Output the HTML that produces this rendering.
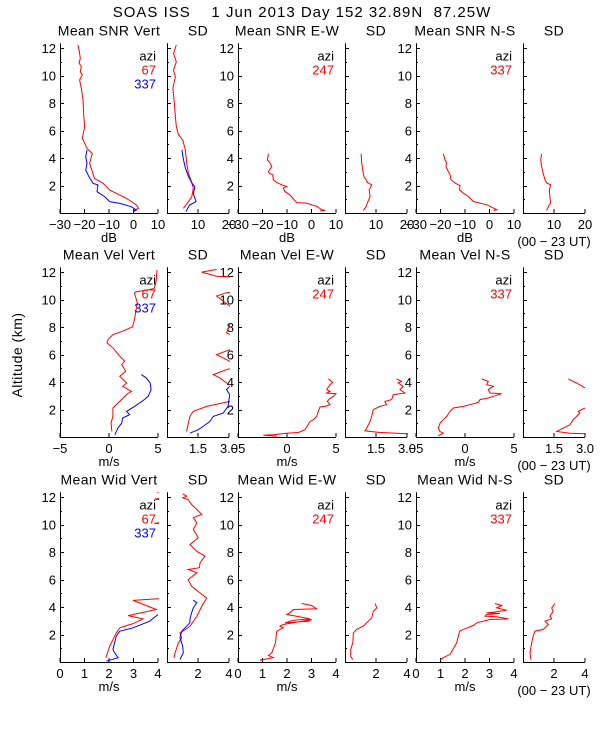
<!DOCTYPE html>
<html><head><meta charset="utf-8"><style>
html,body{margin:0;padding:0;background:#fff;}
svg{display:block;font-family:"Liberation Sans","DejaVu Sans",sans-serif;}
</style></head><body>
<svg id="chart" width="600" height="750" viewBox="0 0 600 750" xmlns="http://www.w3.org/2000/svg">
<rect width="600" height="750" fill="#fff"/>
<text x="302" y="17" font-size="15" letter-spacing="1" text-anchor="middle" xml:space="preserve">SOAS ISS    1 Jun 2013 Day 152 32.89N  87.25W</text>
<text x="0" y="0" font-size="14" letter-spacing="0.5" text-anchor="middle" transform="translate(22,355) rotate(-90)">Altitude (km)</text>
</svg>
<script>
// ---------- data (altitude km / value) ----------
const altTicks = [2,4,6,8,10,12];
const rowTitles = [["Mean SNR Vert","SD","Mean SNR E-W","SD","Mean SNR N-S","SD"],
                   ["Mean Vel Vert","SD","Mean Vel E-W","SD","Mean Vel N-S","SD"],
                   ["Mean Wid Vert","SD","Mean Wid E-W","SD","Mean Wid N-S","SD"]];
const rowUnits = ["dB","m/s","m/s"];
const meanDomains = [[-30,10],[-5,5],[0,4]];
const sdDomains = [[0,20],[0,3],[0,4]];
const meanTickLabels = [[-30,-20,-10,0,10],[-5,0,5],[0,1,2,3,4]];
const sdTickLabels = [["10","20"],["1.5","3.0"],["2","4"]];

// Row 1 SNR
const snrVertRedAlt = [12.23,11.87,11.26,10.9,10.66,10.29,10.05,9.68,9.08,8.23,7.01,6.29,5.44,5.07,4.71,4.47,4.34,3.62,3.01,2.52,2.16,1.67,1.07,0.58,0.34,0.22,0.1];
const snrVertRedVal = [-22.7,-22.2,-21.7,-22.2,-21.3,-21.7,-20.9,-22.0,-21.3,-20.6,-20.3,-19.9,-20.9,-19.9,-19.0,-17.6,-16.8,-17.9,-16.8,-15.9,-12.4,-9.7,-2.9,1.2,2.1,0.5,0.1];
const snrVertBlueAlt = [4.59,4.1,3.62,3.13,2.65,2.16,2.04,1.55,1.19,0.83,0.7,0.46,0.22,0.1];
const snrVertBlueVal = [-19.0,-19.5,-19.0,-19.5,-18.2,-16.5,-14.5,-14.9,-11.8,-9.7,-5.6,-0.9,1.2,-0.2];
const snrVertSdRedAlt = [12.23,11.6,11.0,10.4,9.9,9.1,8.2,7.0,6.3,5.7,5.3,4.6,3.6,2.9,2.2,1.8,1.2,0.83,0.34];
const snrVertSdRedVal = [3.0,2.1,3.0,2.1,2.7,1.9,2.3,2.7,3.0,3.7,5.1,5.9,6.4,6.9,8.0,8.5,8.0,6.9,5.3];
const snrVertSdBlueAlt = [4.6,3.9,3.3,2.65,2.2,1.9,1.4,0.83,0.58,0.1];
const snrVertSdBlueVal = [4.8,5.3,5.9,6.9,8.0,9.0,8.5,9.4,7.3,6.1];
const snrEwAlt = [4.31,3.87,3.63,3.38,3.02,2.90,2.78,2.42,2.22,2.05,1.93,1.81,1.56,1.32,0.96,0.76,0.72,0.60,0.47,0.23,0.18,0.16];
const snrEwVal = [-17.6,-18.0,-16.9,-16.2,-17.6,-17.2,-15.8,-15.6,-14.2,-12.2,-10.1,-11.5,-10.8,-8.8,-7.1,-6.0,-2.0,0.1,2.2,4.2,5.5,3.5];
const snrEwSdAlt = [4.31,3.63,3.14,2.66,2.42,2.22,2.05,1.69,1.20,0.72,0.47,0.18];
const snrEwSdVal = [5.2,5.4,5.7,6.1,6.8,7.2,8.6,7.8,8.1,7.2,6.8,5.9];
const snrNsAlt = [4.31,3.87,3.63,3.38,3.02,2.78,2.42,2.18,1.98,1.69,1.45,1.20,0.84,0.60,0.36,0.23,0.18];
const snrNsVal = [-18.8,-18.2,-17.5,-17.8,-16.8,-16.1,-15.7,-14.1,-12.0,-12.3,-10.7,-8.6,-6.6,-1.1,1.6,3.0,1.6];
const snrNsSdAlt = [4.31,3.87,3.38,2.90,2.42,2.18,2.05,1.69,1.08,0.72,0.47,0.18];
const snrNsSdVal = [6.0,5.7,6.0,6.5,7.1,7.6,8.9,8.5,8.7,8.9,8.2,7.6];

// Row 2 Velocity
const velVertRedAlt = [12.15,11.23,10.80,10.69,10.55,10.45,9.77,9.41,8.55,8.02,7.70,7.46,7.09,6.85,6.49,5.88,5.51,5.27,4.78,4.42,3.93,3.69,3.32,3.16,2.11,1.50,1.01,0.40];
const velVertRedVal = [4.9,4.8,4.6,3.8,2.7,2.6,2.9,2.8,2.6,2.4,1.4,0.4,-0.1,-0.2,0.4,1.1,1.6,1.3,1.7,1.1,1.8,1.4,2.3,1.9,0.4,0.4,0.2,0.3];
const velVertBlueAlt = [4.54,4.30,3.93,3.45,2.96,2.72,2.47,2.23,1.86,1.62,1.38,1.01,0.65,0.16];
const velVertBlueVal = [3.3,3.8,4.2,4.3,4.0,3.6,3.1,2.6,1.8,2.1,1.4,1.3,0.9,0.6];
const velVertSdRedAlt = [12.2,12.0,11.7,11.6,10.6,10.5,10.26,9.53,9.28,8.19,7.58,7.34,6.61,6.0,5.51,5.15,4.9,4.54,4.3,3.93,3.45,2.72,2.59,2.23,1.86,1.50,1.01,0.40];
const velVertSdRedVal = [2.4,1.68,2.4,3.5,3.5,2.88,2.4,3.04,3.5,3.04,2.88,3.2,3.5,2.4,3.04,3.5,2.88,2.24,2.56,2.88,3.5,3.5,3.04,1.92,1.27,1.11,1.03,0.95];
const velVertSdBlueAlt = [3.69,3.45,3.08,2.23,1.74,1.50,1.13,0.77,0.53,0.28];
const velVertSdBlueVal = [3.04,2.88,3.04,2.95,2.72,2.24,2.07,1.75,1.51,1.11];
const velEwAlt = [4.23,3.98,3.81,3.45,3.32,3.2,3.15,2.96,2.77,2.59,2.35,2.23,2.18,1.86,1.50,1.26,1.13,0.53,0.33,0.28,0.16,0.14,0.06];
const velEwVal = [4.21,4.66,4.39,4.05,4.39,4.05,5.0,4.73,4.32,4.11,4.39,3.88,3.37,3.19,3.03,2.68,2.35,1.84,1.15,-0.03,-1.40,-2.42,-1.05];
const velEwSdAlt = [4.23,4.05,3.93,3.69,3.45,3.2,3.08,2.72,2.59,2.35,2.23,1.99,1.50,1.13,0.65,0.45,0.33,0.23];
const velEwSdVal = [2.5,2.74,2.57,2.82,2.66,2.9,2.33,2.26,1.93,2.01,1.69,1.37,1.29,1.21,1.05,0.97,1.69,2.98];
const velNsAlt = [4.23,4.05,3.81,3.69,3.45,3.2,3.15,2.96,2.84,2.72,2.52,2.35,2.23,2.11,1.86,1.50,1.26,1.01,0.65,0.40,0.28,0.09];
const velNsVal = [1.7,2.38,2.21,2.89,2.38,2.55,3.74,2.89,2.38,1.53,1.36,0.51,-0.17,-1.19,-1.53,-1.87,-2.21,-2.55,-2.72,-2.55,-2.21,-2.72];
const velNsSdUpperAlt = [4.23,3.93,3.57];
const velNsSdUpperVal = [2.19,2.59,3.0];
const velNsSdLowerAlt = [2.11,1.86,1.74,1.26,0.89,0.65,0.53,0.40,0.28,0.23];
const velNsSdLowerVal = [3.0,2.67,2.75,2.43,2.27,1.95,1.79,1.63,2.27,3.0];

// Row 3 Width
const widVertRedAlt = [12.35,12.25,11.85,11.7,10.3,10.1,9.95,4.7,4.6,4.48,3.82,3.38,3.14,2.79,2.65,2.48,2.12,1.15,0.3];
const widVertRedVal = [3.95,5,3.85,5,5,3.85,5,5,4.0,2.98,3.93,2.78,3.39,2.98,2.71,2.44,2.30,2.03,1.87];
const widVertBlueAlt = [3.46,2.97,2.49,2.24,1.88,1.40,0.91,0.67,0.31,0.06];
const widVertBlueVal = [4.0,3.66,2.98,2.44,2.30,2.23,2.16,2.23,2.37,1.89];
const widVertSdRedAlt = [12.24,12.07,11.95,11.83,11.46,11.1,10.74,10.5,10.13,9.64,9.04,8.55,8.06,7.70,7.22,6.86,6.73,6.49,6.0,5.51,5.03,4.66,4.05,3.32,2.59,2.11,1.75,1.38,0.66,0.3];
const widVertSdRedVal = [1.01,1.27,1.01,1.37,1.59,1.92,2.24,1.70,1.92,1.70,2.02,1.48,1.92,2.45,2.13,2.09,1.37,1.92,1.37,1.59,2.13,2.56,2.24,1.92,1.48,0.84,0.95,0.73,0.52,0.45];
const widVertSdBlueAlt = [4.5,4.31,3.94,3.58,3.09,2.85,2.49,2.24,1.76,1.15,0.67,0.18];
const widVertSdBlueVal = [1.70,1.92,1.70,1.59,1.48,1.48,1.16,0.95,0.84,1.01,1.05,0.84];
const widEwAlt = [4.26,4.11,3.87,3.82,3.58,3.46,3.33,3.14,3.04,2.85,2.97,3.09,2.73,2.61,2.49,2.24,1.40,0.67,0.47,0.31,0.13,0.23];
const widEwVal = [2.6,3.01,3.21,2.26,2.12,1.99,2.39,2.94,2.26,1.92,2.87,3.01,1.85,1.71,1.85,1.58,1.53,1.38,1.24,1.44,0.9,1.03];
const widEwSdAlt = [4.26,3.94,3.70,3.22,2.85,2.61,2.37,2.12,1.40,0.91,0.42,0.18];
const widEwSdVal = [1.94,2.05,1.83,1.72,1.40,1.18,0.75,0.54,0.50,0.37,0.37,0.50];
const widNsAlt = [4.26,4.11,3.94,3.77,3.62,3.58,3.53,3.46,3.33,3.29,3.14,3.09,2.85,2.66,2.37,2.24,1.88,1.40,0.55,0.31,0.13];
const widNsVal = [3.22,3.5,3.29,3.7,3.16,2.88,3.43,2.88,2.82,3.29,3.77,3.02,2.48,2.34,1.93,1.78,1.73,1.66,1.39,1.11,0.98];
const widNsSdAlt = [4.26,3.94,3.70,3.33,3.14,2.97,2.73,2.37,2.24,1.88,1.40,0.67,0.18];
const widNsSdVal = [2.06,1.85,1.95,1.74,1.85,1.42,1.63,1.31,0.77,0.66,0.56,0.45,0.5];

// ---------- layout ----------
const NS = "http://www.w3.org/2000/svg";
const svg = document.getElementById('chart');
const colX0 = [60,167,238,345,416,523], colX1 = [158,229,336,407,514,585];
const rowZero = [213,437,662];
const pxPerKm = 13.74, altMax = 12.35;
function el(tag, attrs, parent){const e=document.createElementNS(NS,tag);for(const k in attrs)e.setAttribute(k,attrs[k]);(parent||svg).appendChild(e);return e;}
function yScale(r,a){return rowZero[r]-a*pxPerKm;}
function xScale(r,c,v){const d=(c%2===0)?meanDomains[r]:sdDomains[r];return colX0[c]+(v-d[0])/(d[1]-d[0])*(colX1[c]-colX0[c]);}

for(let r=0;r<3;r++){
  for(let c=0;c<6;c++){
    const g=el('g',{});
    
    
    const x0=colX0[c],x1=colX1[c],yb=rowZero[r],yt=yb-altMax*pxPerKm;
    const t=el('text',{x:(x0+x1)/2,y:yt-8,'font-size':14,'letter-spacing':0.4,'text-anchor':'middle'},g);
    t.textContent=rowTitles[r][c];
    
    
    el('line',{x1:x0+0.5,y1:yt,x2:x0+0.5,y2:yb+0.5,stroke:'#000','stroke-width':1},g);
    el('line',{x1:x0,y1:yb+0.5,x2:x1,y2:yb+0.5,stroke:'#000','stroke-width':1},g);
    for(let a=1;a<=12;a++){
      const y=Math.round(yScale(r,a))+0.5, len=(a%2===0)?4:2;
      el('line',{x1:x0,y1:y,x2:x0+len,y2:y,stroke:'#000'},g);
    }
    if(c%2===0){
      altTicks.forEach(a=>{
        const tt=el('text',{x:x0-4,y:yScale(r,a)+5,'font-size':13,'text-anchor':'end'},g);
        tt.textContent=a;
        
        
      });
      meanTickLabels[r].forEach(v=>{
        const x=xScale(r,c,v);
        el('line',{x1:x,y1:yb,x2:x,y2:yb-4,stroke:'#000'},g);
        const tt=el('text',{x:x,y:yb+16,'font-size':13,'text-anchor':'middle'},g);
        tt.textContent=(v<0?'\u2212'+(-v):v);
        
        
      });
      const u=el('text',{x:(x0+x1)/2,y:yb+29,'font-size':13,'text-anchor':'middle'},g);
      u.textContent=rowUnits[r];
      
      
    } else {
      sdTickLabels[r].forEach(s=>{
        const x=xScale(r,c,parseFloat(s));
        el('line',{x1:x,y1:yb,x2:x,y2:yb-4,stroke:'#000'},g);
        const tt=el('text',{x:x,y:yb+16,'font-size':13,'text-anchor':'middle'},g);
        tt.textContent=s;
        
        
      });
    }
    const cp=el('clipPath',{id:'clip'+r+c});
    el('rect',{x:x0,y:yt,width:x1-x0+1,height:yb-yt},cp);
  }
  const ut=el('text',{x:554,y:rowZero[r]+33,'font-size':13,'text-anchor':'middle'});
  ut.textContent='(00 \u2212 23 UT)';
  
  
}

function series(r,c,alts,vals,color,name){
  const pts=alts.map((a,i)=>xScale(r,c,vals[i]).toFixed(1)+','+yScale(r,a).toFixed(1)).join(' ');
  const p=el('polyline',{points:pts,fill:'none',stroke:color,'stroke-width':1,'clip-path':'url(#clip'+r+c+')'});
  
  
}
const RED='#ff0000', BLUE='#0000ff';
series(0,0,snrVertRedAlt,snrVertRedVal,RED,'snr-vert-67');
series(0,0,snrVertBlueAlt,snrVertBlueVal,BLUE,'snr-vert-337');
series(0,1,snrVertSdRedAlt,snrVertSdRedVal,RED,'snr-vert-sd-67');
series(0,1,snrVertSdBlueAlt,snrVertSdBlueVal,BLUE,'snr-vert-sd-337');
series(0,2,snrEwAlt,snrEwVal,RED,'snr-ew-247');
series(0,3,snrEwSdAlt,snrEwSdVal,RED,'snr-ew-sd-247');
series(0,4,snrNsAlt,snrNsVal,RED,'snr-ns-337');
series(0,5,snrNsSdAlt,snrNsSdVal,RED,'snr-ns-sd-337');
series(1,0,velVertRedAlt,velVertRedVal,RED,'vel-vert-67');
series(1,0,velVertBlueAlt,velVertBlueVal,BLUE,'vel-vert-337');
series(1,1,velVertSdRedAlt,velVertSdRedVal,RED,'vel-vert-sd-67');
series(1,1,velVertSdBlueAlt,velVertSdBlueVal,BLUE,'vel-vert-sd-337');
series(1,2,velEwAlt,velEwVal,RED,'vel-ew-247');
series(1,3,velEwSdAlt,velEwSdVal,RED,'vel-ew-sd-247');
series(1,4,velNsAlt,velNsVal,RED,'vel-ns-337');
series(1,5,velNsSdUpperAlt,velNsSdUpperVal,RED,'vel-ns-sd-upper');
series(1,5,velNsSdLowerAlt,velNsSdLowerVal,RED,'vel-ns-sd-lower');
series(2,0,widVertRedAlt,widVertRedVal,RED,'wid-vert-67');
series(2,0,widVertBlueAlt,widVertBlueVal,BLUE,'wid-vert-337');
series(2,1,widVertSdRedAlt,widVertSdRedVal,RED,'wid-vert-sd-67');
series(2,1,widVertSdBlueAlt,widVertSdBlueVal,BLUE,'wid-vert-sd-337');
series(2,2,widEwAlt,widEwVal,RED,'wid-ew-247');
series(2,3,widEwSdAlt,widEwSdVal,RED,'wid-ew-sd-247');
series(2,4,widNsAlt,widNsVal,RED,'wid-ns-337');
series(2,5,widNsSdAlt,widNsSdVal,RED,'wid-ns-sd-337');

// azimuth legends
for(let r=0;r<3;r++){
  const yb=rowZero[r]-altMax*pxPerKm;
  [[0,['azi','#000'],['67',RED],['337',BLUE]],[2,['azi','#000'],['247',RED]],[4,['azi','#000'],['337',RED]]].forEach(spec=>{
    const c=spec[0];
    for(let i=1;i<spec.length;i++){
      const tt=el('text',{x:colX1[c]-2,y:yb+17+14*(i-1),'font-size':13,'text-anchor':'end',fill:spec[i][1]});
      tt.textContent=spec[i][0];
      
      
    }
  });
}
</script>
</body></html>
